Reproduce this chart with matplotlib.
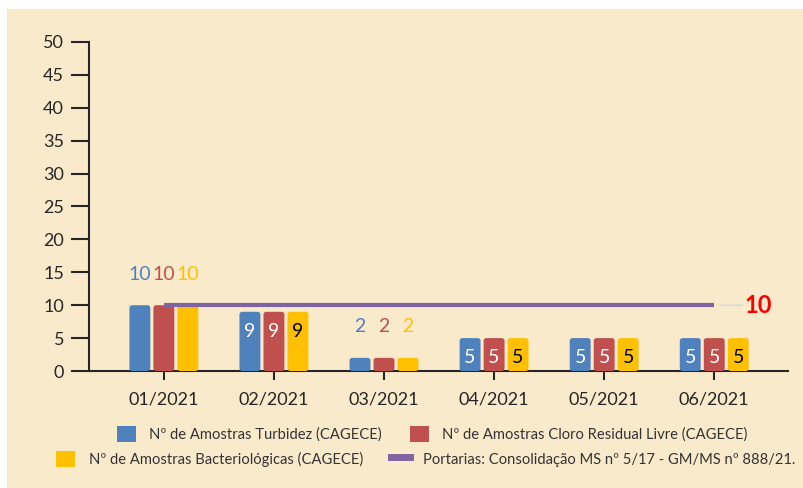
import matplotlib.pyplot as plt
import matplotlib.patches as mpatches
from matplotlib.lines import Line2D
import numpy as np

plt.rcParams['font.family'] = ['Lato', 'DejaVu Sans']

# data
months = ['01/2021', '02/2021', '03/2021', '04/2021', '05/2021', '06/2021']
turbidez = [10, 9, 2, 5, 5, 5]
cloro = [10, 9, 2, 5, 5, 5]
bacterio = [10, 9, 2, 5, 5, 5]
portaria = [10, 10, 10, 10, 10, 10]

labels = ['Nº de Amostras Turbidez (CAGECE)',
          'Nº de Amostras Cloro Residual Livre (CAGECE)',
          'Nº de Amostras Bacteriológicas (CAGECE)',
          'Portarias: Consolidação MS nº 5/17 - GM/MS nº 888/21.']

blue, red, yellow, purple = '#4F81BD', '#C0504D', '#FFC000', '#8064A2'
bg = '#FAEACC'
dark = '#262626'

fig = plt.figure(figsize=(8.04, 4.88), dpi=100, facecolor='white')
# beige panel
fig.patches.append(mpatches.Rectangle((7 / 804, 0), 1, 1 - 9 / 488,
                                      transform=fig.transFigure,
                                      facecolor=bg, edgecolor='none', zorder=-10))

ax = fig.add_axes([89 / 804, 1 - 371 / 488, 699 / 804, 329 / 488])
ax.set_facecolor('none')
ax.set_xlim(-0.68, 5.67)
ax.set_ylim(0, 50)

x = np.arange(len(months))
off = 0.218
w = 0.19
# aspect so the rounded corners stay round (y units per x unit in pixels)
asp = (50 / 329) / (6.35 / 699)
series = [(turbidez, blue, 'white'), (cloro, red, 'white'), (bacterio, yellow, 'black')]
for i, (vals, col, inner) in enumerate(series):
    pos = x + (i - 1) * off
    bars = ax.bar(pos, vals, width=w, color=col, zorder=2)
    for r in bars:
        r.set_visible(False)
        ax.add_patch(mpatches.FancyBboxPatch(
            (r.get_x(), r.get_y()), r.get_width(), r.get_height(),
            boxstyle='round,pad=0,rounding_size=0.025', mutation_aspect=asp,
            facecolor=col, edgecolor='none', zorder=2))
    for p, v in zip(pos, vals):
        if v == 10 or v == 2:
            ax.text(p, v + 4.7, str(v), ha='center', va='center',
                    color=col, fontsize=14, zorder=3)
        else:
            ax.text(p, v - 3, str(v), ha='center', va='center',
                    color=inner, fontsize=14, zorder=3)

ax.plot(x, portaria, color=purple, lw=3, zorder=3, solid_capstyle='butt')
ax.annotate(str(portaria[-1]), (x[-1], portaria[-1]), xytext=(22, 0),
            textcoords='offset points', ha='left', va='center',
            color='#FF0000', fontsize=17, fontweight='bold',
            arrowprops=dict(arrowstyle='-', color='#d9d9d9', lw=1.2,
                            shrinkA=0, shrinkB=4))

ax.set_yticks(range(0, 51, 5))
ax.set_xticks(x)
ax.set_xticklabels(months)

for s in ['top', 'right']:
    ax.spines[s].set_visible(False)
for s in ['left', 'bottom']:
    ax.spines[s].set_color(dark)
    ax.spines[s].set_linewidth(1.5)
    ax.spines[s].set_zorder(1)
ax.tick_params(axis='y', direction='out', length=13, width=1.5, color=dark,
               labelsize=13, labelcolor=dark, pad=5)
ax.tick_params(axis='x', direction='inout', length=13, width=1.5, color=dark,
               labelsize=13, labelcolor=dark, pad=8)

# legend, two centred rows
def sq(c):
    return mpatches.Patch(facecolor=c, edgecolor='none')

leg_kw = dict(ncol=2, loc='center', frameon=False, fontsize=10.6,
              handlelength=1.3, handleheight=1.3, handletextpad=0.9,
              columnspacing=1.9, labelcolor='#333333')
fig.legend([sq(blue), sq(red)], labels[:2],
           bbox_to_anchor=(432 / 804, 1 - 434 / 488), **leg_kw)
fig.legend([sq(yellow), Line2D([0], [0], color=purple, lw=5)], labels[2:],
           bbox_to_anchor=(426 / 804, 1 - 459 / 488), **leg_kw)

fig.savefig('out.png', dpi=100, facecolor='white')
